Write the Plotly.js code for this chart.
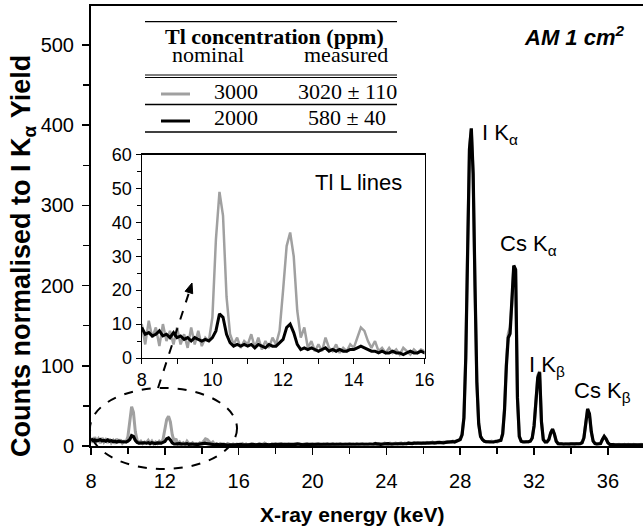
<!DOCTYPE html>
<html><head><meta charset="utf-8">
<script src="https://cdn.plot.ly/plotly-3.0.1.min.js"></script>
<style>html,body{margin:0;padding:0;background:#fff}</style>
</head><body>
<div id="chart" style="width:643px;height:532px"></div>
<script>
// Spectra sampled every 0.1 keV starting at 8.0 keV
const energyStart = 8.0;
const energyStep = 0.1;

// 2000 ppm nominal (black)
const counts2000 = [
  9, 7, 7.5, 6.5, 7, 8, 6.5, 7, 6, 7.5,
  6, 6.5, 5.5, 6, 5, 6, 5.5, 5, 5.5, 5,
  6, 8, 13, 12, 7, 4.5, 3.5, 4, 3.5, 4,
  3.5, 4, 3, 4, 3.5, 3, 4, 3.5, 3.5, 4.5,
  5.5, 9, 10, 7.5, 4, 2.5, 3, 2.5, 3, 2.5,
  2, 2.5, 3, 2, 2.5, 2, 2.5, 2, 2, 2.5,
  2.5, 3, 3.5, 3, 2.5, 2, 2, 1.5, 2, 1.5,
  1.5, 2, 1.5, 1.5, 1, 1.5, 2, 1.5, 1.5, 2,
  1.5, 2, 1.5, 2, 1.5, 1.5, 2, 1.5, 2, 1.5,
  2, 1.5, 2, 1.5, 2, 2, 1.5, 2, 1.5, 2,
  2, 2, 1.5, 2, 2, 1.5, 2, 2, 1.5, 2,
  2, 2, 2.5, 2, 2, 1.5, 2, 2, 2.5, 2,
  2, 2, 2.5, 2, 2, 2.5, 2, 2, 2, 2.5,
  2, 2.5, 2, 2, 2.5, 2, 2, 2.5, 2, 2,
  2.5, 2, 2, 2.5, 2.5, 2, 2.5, 2, 2.5, 2.5,
  2.5, 2, 2.5, 2.5, 3, 2.5, 2.5, 2, 2.5, 3,
  2.5, 3, 2.5, 2.5, 3, 3, 2.5, 3, 3, 2.5,
  3, 3, 3.5, 3, 3, 3.5, 3, 3.5, 3.5, 3,
  3.5, 3.5, 4, 3.5, 4, 4, 3.5, 4, 4.5, 4,
  4.5, 4, 4.5, 5, 4.5, 5, 5.5, 5, 6, 6.5,
  8, 14, 35, 110, 250, 370, 396, 340, 200, 80,
  28, 12, 8, 6, 5.5, 5, 5.5, 5, 5, 5.5,
  5.5, 6, 7, 15, 45, 100, 135, 140, 175, 225,
  220, 60, 12, 6, 5, 5, 5, 5.5, 6, 10,
  25, 55, 85, 92, 30, 8, 5, 5, 8, 16,
  21, 15, 6, 3, 2.5, 2.5, 2.5, 2.5, 2.5, 2.5,
  2.5, 2.5, 2.5, 2.5, 2.5, 3, 4, 10, 28, 46,
  40, 18, 6, 3, 2.5, 2.5, 3, 8, 12, 9,
  4, 2, 1.5, 1.5, 1.5, 1.5, 1.5, 1.5, 1.5, 1.5,
  1.5, 1.5, 1.5, 1.5, 1.5, 1.5, 1.5, 1.5, 1.5, 1.5
];

// 3000 ppm nominal (grey)
const counts3000 = [
  10, 4, 11, 6, 9, 3.5, 10, 5, 8, 4,
  9, 4, 7, 3, 9, 4, 8, 3.5, 6, 5,
  12, 35, 49, 42, 18, 7, 4, 6, 3, 5,
  4, 7, 3, 6, 2.5, 5, 3, 6, 4, 8,
  20, 33, 37, 30, 14, 6, 9, 3, 5, 2,
  4, 2, 6, 3, 2, 4, 1.5, 3, 2, 4,
  3, 6, 9, 8, 5, 3, 5, 2, 3, 1.5,
  3, 1.5, 2.5, 1, 3, 2, 1, 2.5, 1.5, 2.5,
  2, 1, 3, 1.5, 2.5, 1, 2, 3, 1.5, 2,
  1.5, 3, 1, 2, 3.5, 1.5, 2, 1, 2.5, 1.5,
  2.5, 1.5, 2, 3, 1.5, 2, 1, 2.5, 2, 1.5,
  2, 3, 1.5, 2, 1, 2.5, 2, 3, 1.5, 2,
  2.5, 1.5, 2, 3, 2, 1.5, 2.5, 2, 3, 1.5,
  2, 3, 1.5, 2.5, 2, 3, 1.5, 2, 2.5, 2,
  3, 2, 2.5, 1.5, 3, 2, 2.5, 3, 2, 2.5,
  2, 3, 2.5, 2, 3.5, 2, 3, 2.5, 2, 3.5,
  3, 2.5, 3.5, 2, 3, 3.5, 2.5, 3, 4, 2.5,
  3.5, 3, 4, 3, 3.5, 4, 3, 4, 3.5, 3,
  4, 3.5, 4.5, 3.5, 4, 5, 3.5, 4.5, 4, 5,
  4.5, 5, 4.5, 5.5, 5, 5, 6, 5.5, 6.5, 7,
  9, 15, 36, 112, 252, 372, 395, 338, 198, 78,
  27, 12, 8, 6.5, 5, 5.5, 5, 6, 5, 6,
  5, 6.5, 7.5, 16, 48, 104, 140, 148, 178, 224,
  218, 58, 11, 6, 5.5, 5, 5.5, 5, 6.5, 10,
  26, 57, 88, 93, 31, 8, 5, 5.5, 8, 17,
  21, 14, 6, 3, 2.5, 3, 2, 3, 2.5, 2,
  3, 2.5, 2, 3, 2.5, 3, 4.5, 11, 29, 47,
  39, 17, 6, 3, 2.5, 3, 3, 8, 12, 8,
  4, 2, 1.5, 2, 1, 1.5, 2, 1, 1.5, 2,
  1, 2, 1.5, 1, 2, 1.5, 1, 1.5, 2, 1
];

const mainXTicks = [8, 12, 16, 20, 24, 28, 32, 36];
const insetXTicks = [8, 10, 12, 14, 16];

const legendNominal = ['3000', '2000'];
const legendMeasured = ['3020 ± 110', '580 ± 40'];
const peakLabels = ['I K<sub>α</sub>', 'Cs K<sub>α</sub>', 'I K<sub>β</sub>', 'Cs K<sub>β</sub>'];

const GREY = '#a0a0a0';
const SANS = 'Liberation Sans, Arial, sans-serif';
const SERIF = 'Liberation Serif, Times New Roman, serif';

// pixel -> paper helpers (plot area: x 91..643, y 6..446)
const L = 91, R = 643, T = 6, B = 446;
const px = x => (x - L) / (R - L);
const py = y => (B - y) / (B - T);

const traces = [
  {x0: energyStart, dx: energyStep, y: counts3000, type: 'scatter', mode: 'lines',
   line: {color: GREY, width: 3}, xaxis: 'x', yaxis: 'y', hoverinfo: 'skip'},
  {x0: energyStart, dx: energyStep, y: counts2000, type: 'scatter', mode: 'lines',
   line: {color: '#000', width: 3.2}, xaxis: 'x', yaxis: 'y', hoverinfo: 'skip'},
  {x0: energyStart, dx: energyStep, y: counts3000, type: 'scatter', mode: 'lines',
   line: {color: GREY, width: 2.5}, xaxis: 'x2', yaxis: 'y2', hoverinfo: 'skip'},
  {x0: energyStart, dx: energyStep, y: counts2000, type: 'scatter', mode: 'lines',
   line: {color: '#000', width: 3}, xaxis: 'x2', yaxis: 'y2', hoverinfo: 'skip'}
];

const shapes = [];
const annotations = [];

// table rules
function hline(y, w) {
  shapes.push({type: 'line', xref: 'paper', yref: 'paper', x0: px(145), x1: px(397),
    y0: py(y), y1: py(y), line: {color: '#000', width: w}});
}
hline(21.7, 1.3); hline(75, 1); hline(77.5, 1); hline(104.5, 1.3); hline(132, 1.3);
// legend samples
shapes.push({type: 'line', xref: 'paper', yref: 'paper', x0: px(161), x1: px(190), y0: py(94), y1: py(94), line: {color: GREY, width: 3}});
shapes.push({type: 'line', xref: 'paper', yref: 'paper', x0: px(161), x1: px(190), y0: py(121), y1: py(121), line: {color: '#000', width: 3}});

// dashed ellipse and arrow
shapes.push({type: 'circle', xref: 'paper', yref: 'paper', x0: px(90), x1: px(237), y0: py(469), y1: py(388),
  line: {color: '#000', width: 2, dash: 'dash'}});
shapes.push({type: 'line', xref: 'paper', yref: 'paper', x0: px(158), y0: py(388), x1: px(189.5), y1: py(291),
  line: {color: '#000', width: 2, dash: 'dash'}});
shapes.push({type: 'path', xref: 'paper', yref: 'paper',
  path: `M ${px(192)} ${py(283)} L ${px(192.7)} ${py(293.7)} L ${px(185.1)} ${py(291.3)} Z`,
  fillcolor: '#000', line: {color: '#000', width: 1}});

function note(text, x, y, font, extra) {
  annotations.push(Object.assign({text, xref: 'paper', yref: 'paper', x: px(x), y: py(y),
    xanchor: 'center', yanchor: 'middle', showarrow: false, font}, extra || {}));
}
const serif22 = {family: SERIF, size: 22, color: '#000'};
note('<b>Tl concentration (ppm)</b>', 274, 36, serif22);
note('nominal', 208, 54, serif22);
note('measured', 346, 54, serif22);
note(legendNominal[0], 236, 91, serif22);
note(legendMeasured[0], 347, 91, serif22);
note(legendNominal[1], 236, 117.5, serif22);
note(legendMeasured[1], 347, 117.5, serif22);

const sans22 = {family: SANS, size: 22, color: '#000'};
note(peakLabels[0], 500, 134, sans22);
note(peakLabels[1], 528, 245, sans22);
note(peakLabels[2], 547, 366, sans22);
note(peakLabels[3], 602, 392, sans22);
note('Tl L lines', 358, 183, sans22);
note('<b><i>AM 1 cm<sup>2</sup></i></b>', 574, 36, {family: SANS, size: 22, color: '#000'});

// axis titles
note('<b>X-ray energy (keV)</b>', 352, 514, {family: SANS, size: 21, color: '#000'});
note('<b>Counts normalised to I K<sub>α</sub> Yield</b>', 23, 256, {family: SANS, size: 27, color: '#000'}, {textangle: -90});

const layout = {
  width: 643, height: 532,
  margin: {l: L, r: 643 - R, t: T, b: 532 - B, pad: 0},
  paper_bgcolor: '#fff', plot_bgcolor: 'rgba(0,0,0,0)',
  showlegend: false,
  font: {family: SANS, color: '#000'},
  xaxis: {range: [8, 37.9], domain: [0, 1], anchor: 'y', showgrid: false, zeroline: false,
    showline: true, linewidth: 2, linecolor: '#000', mirror: true,
    ticks: 'outside', ticklen: 7, tickwidth: 1.5, tickcolor: '#000',
    tickmode: 'array', tickvals: mainXTicks, ticktext: mainXTicks.map(String),
    ticklabelstandoff: 9,
    minor: {dtick: 2, tick0: 8, ticks: 'outside', ticklen: 6, tickwidth: 1.5, tickcolor: '#000', showgrid: false},
    tickfont: {family: SANS, size: 20, color: '#000'}},
  yaxis: {range: [0, 548.6], domain: [0, 1], anchor: 'x', showgrid: false, zeroline: false,
    showline: true, linewidth: 2, linecolor: '#000', mirror: false,
    ticks: 'outside', ticklen: 7, tickwidth: 1.5, tickcolor: '#000',
    dtick: 100, tick0: 0, ticklabelstandoff: 4,
    minor: {dtick: 50, tick0: 0, ticks: 'outside', ticklen: 6, tickwidth: 1.5, tickcolor: '#000', showgrid: false},
    tickfont: {family: SANS, size: 20, color: '#000'}},
  xaxis2: {range: [8, 16], domain: [px(141.7), px(424.5)], anchor: 'y2', showgrid: false, zeroline: false,
    showline: true, linewidth: 1.2, linecolor: '#000', mirror: true,
    ticks: 'outside', ticklen: 5, tickwidth: 1, tickcolor: '#000',
    tickmode: 'array', tickvals: insetXTicks, ticktext: insetXTicks.map(String),
    minor: {dtick: 1, tick0: 8, ticks: 'outside', ticklen: 5, tickwidth: 1, tickcolor: '#000', showgrid: false},
    tickfont: {family: SANS, size: 18, color: '#000'}},
  yaxis2: {range: [0, 60], domain: [py(358), py(154.5)], anchor: 'x2', showgrid: false, zeroline: false,
    showline: true, linewidth: 1.2, linecolor: '#000', mirror: true,
    ticks: 'outside', ticklen: 5, tickwidth: 1, tickcolor: '#000', dtick: 10, tick0: 0,
    minor: {dtick: 5, tick0: 0, ticks: 'outside', ticklen: 4, tickwidth: 1, tickcolor: '#000', showgrid: false},
    tickfont: {family: SANS, size: 18, color: '#000'}},
  shapes, annotations
};

Plotly.newPlot('chart', traces, layout, {displayModeBar: false, staticPlot: true});
</script>
</body></html>
